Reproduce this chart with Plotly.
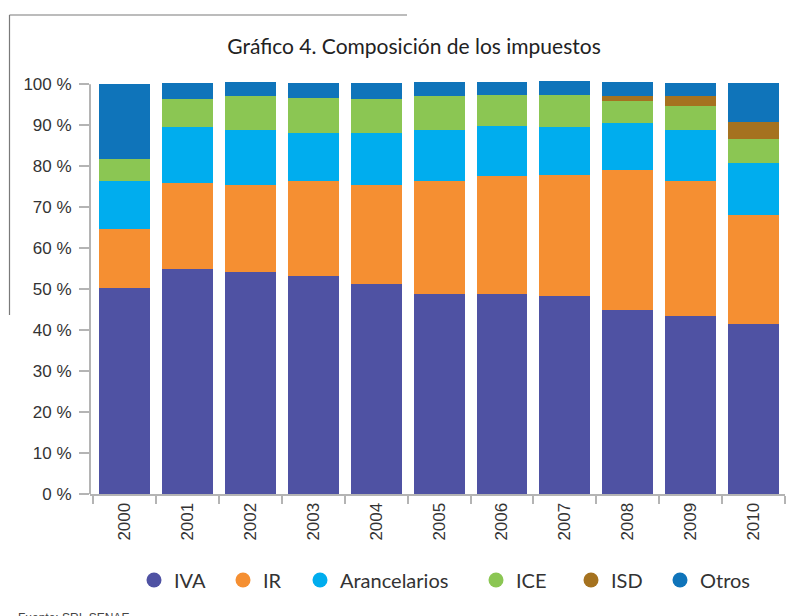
import plotly.graph_objects as go

years = ["2000", "2001", "2002", "2003", "2004", "2005", "2006", "2007", "2008", "2009", "2010"]
iva = [50.4, 55.0, 54.3, 53.3, 51.3, 48.9, 48.7, 48.4, 45.0, 43.5, 41.6]
ir = [14.4, 21.0, 21.2, 23.0, 24.2, 27.4, 28.8, 29.4, 34.0, 32.8, 26.4]
arancelarios = [11.7, 13.5, 13.3, 11.7, 12.5, 12.5, 12.2, 11.7, 11.5, 12.5, 12.7]
ice = [5.2, 6.8, 8.3, 8.6, 8.3, 8.3, 7.7, 7.9, 5.4, 5.8, 5.9]
isd = [0, 0, 0, 0, 0, 0, 0, 0, 1.2, 2.5, 4.1]
otros = [18.3, 3.9, 3.4, 3.6, 3.9, 3.4, 3.1, 3.3, 3.4, 3.1, 9.5]
y_ticks = [0, 10, 20, 30, 40, 50, 60, 70, 80, 90, 100]
y_tick_labels = ["0 %", "10 %", "20 %", "30 %", "40 %", "50 %", "60 %", "70 %", "80 %", "90 %", "100 %"]

series = [
    ("IVA", iva, "#4F52A3"),
    ("IR", ir, "#F58F32"),
    ("Arancelarios", arancelarios, "#00ADEE"),
    ("ICE", ice, "#8BC653"),
    ("ISD", isd, "#A5721F"),
    ("Otros", otros, "#0F74BA"),
]

W, H = 805, 616
ML, MR, MT, MB = 90, 20, 81, 122
PW = W - ML - MR
PH = H - MT - MB


def px_x(p):
    return (p - ML) / PW


def px_y(p):
    return (H - MB - p) / PH


fig = go.Figure()
for name, vals, col in series:
    fig.add_trace(go.Bar(x=years, y=vals, name=name, marker=dict(color=col, line=dict(width=0)),
                         showlegend=False, hoverinfo="skip"))

# legend entries (circles), one legend per entry to match spacing
text_starts = [174, 263, 340, 516, 611, 700]
for i, ((name, vals, col), ts) in enumerate(zip(series, text_starts)):
    lg = "legend" if i == 0 else f"legend{i+1}"
    fig.add_trace(go.Scatter(x=[None], y=[None], mode="markers", name=name,
                             marker=dict(color=col, size=15, symbol="circle"),
                             legend=lg, showlegend=True))

legend_common = dict(orientation="h", yanchor="middle", xanchor="left",
                     font=dict(family="Lato, Open Sans, sans-serif", size=20, color="#333333"),
                     bgcolor="rgba(0,0,0,0)", itemwidth=30, borderwidth=0)
for i, ts in enumerate(text_starts):
    key = "legend" if i == 0 else f"legend{i+1}"
    fig.update_layout(**{key: dict(x=px_x(ts - 40), y=px_y(580), **legend_common)})

# y axis line and frame decoration
fig.add_shape(type="line", xref="paper", yref="y", x0=0, x1=0, y0=0, y1=100,
              line=dict(color="#b4b4b4", width=2))
fig.add_shape(type="line", xref="paper", yref="paper", x0=px_x(9.5), x1=px_x(407),
              y0=px_y(15), y1=px_y(15), line=dict(color="#7a7a7a", width=1.2))
fig.add_shape(type="line", xref="paper", yref="paper", x0=px_x(9.5), x1=px_x(9.5),
              y0=px_y(15), y1=px_y(315), line=dict(color="#7a7a7a", width=1.2))

fig.add_annotation(text="Fuente: SRI, SENAE", xref="paper", yref="paper",
                   x=px_x(16), y=px_y(609), xanchor="left", yanchor="top", showarrow=False,
                   font=dict(family="Liberation Sans, Arial, sans-serif", size=12, color="#444444"))

fig.update_layout(
    width=W, height=H,
    margin=dict(l=ML, r=MR, t=MT, b=MB),
    paper_bgcolor="white", plot_bgcolor="white",
    barmode="stack", bargap=0.19,
    title=dict(text="Gráfico 4. Composición de los impuestos", xref="container", x=414 / W,
               xanchor="center", yref="container", y=1 - 47 / H, yanchor="middle",
               font=dict(family="Lato, Open Sans, sans-serif", size=21, color="#222222")),
    xaxis=dict(type="category", range=[-0.55, 10.5], showline=True, linecolor="#b4b4b4", linewidth=2,
               ticks="outside", tickson="boundaries", ticklen=8, tickcolor="#b4b4b4", tickwidth=1.5,
               tickangle=-90, showgrid=False, zeroline=False,
               tickfont=dict(family="Liberation Sans, Arial, sans-serif", size=17, color="#333333")),
    yaxis=dict(range=[0, 100.8], tickmode="array", tickvals=y_ticks, ticktext=y_tick_labels,
               showline=False, ticks="outside", ticklen=10, tickcolor="#b4b4b4", tickwidth=2,
               ticklabelstandoff=4, showgrid=False, zeroline=False,
               tickfont=dict(family="Liberation Sans, Arial, sans-serif", size=17, color="#333333")),
)

fig.write_html("out.html", config={"displayModeBar": False},
               post_script="document.body.style.margin='0';")
